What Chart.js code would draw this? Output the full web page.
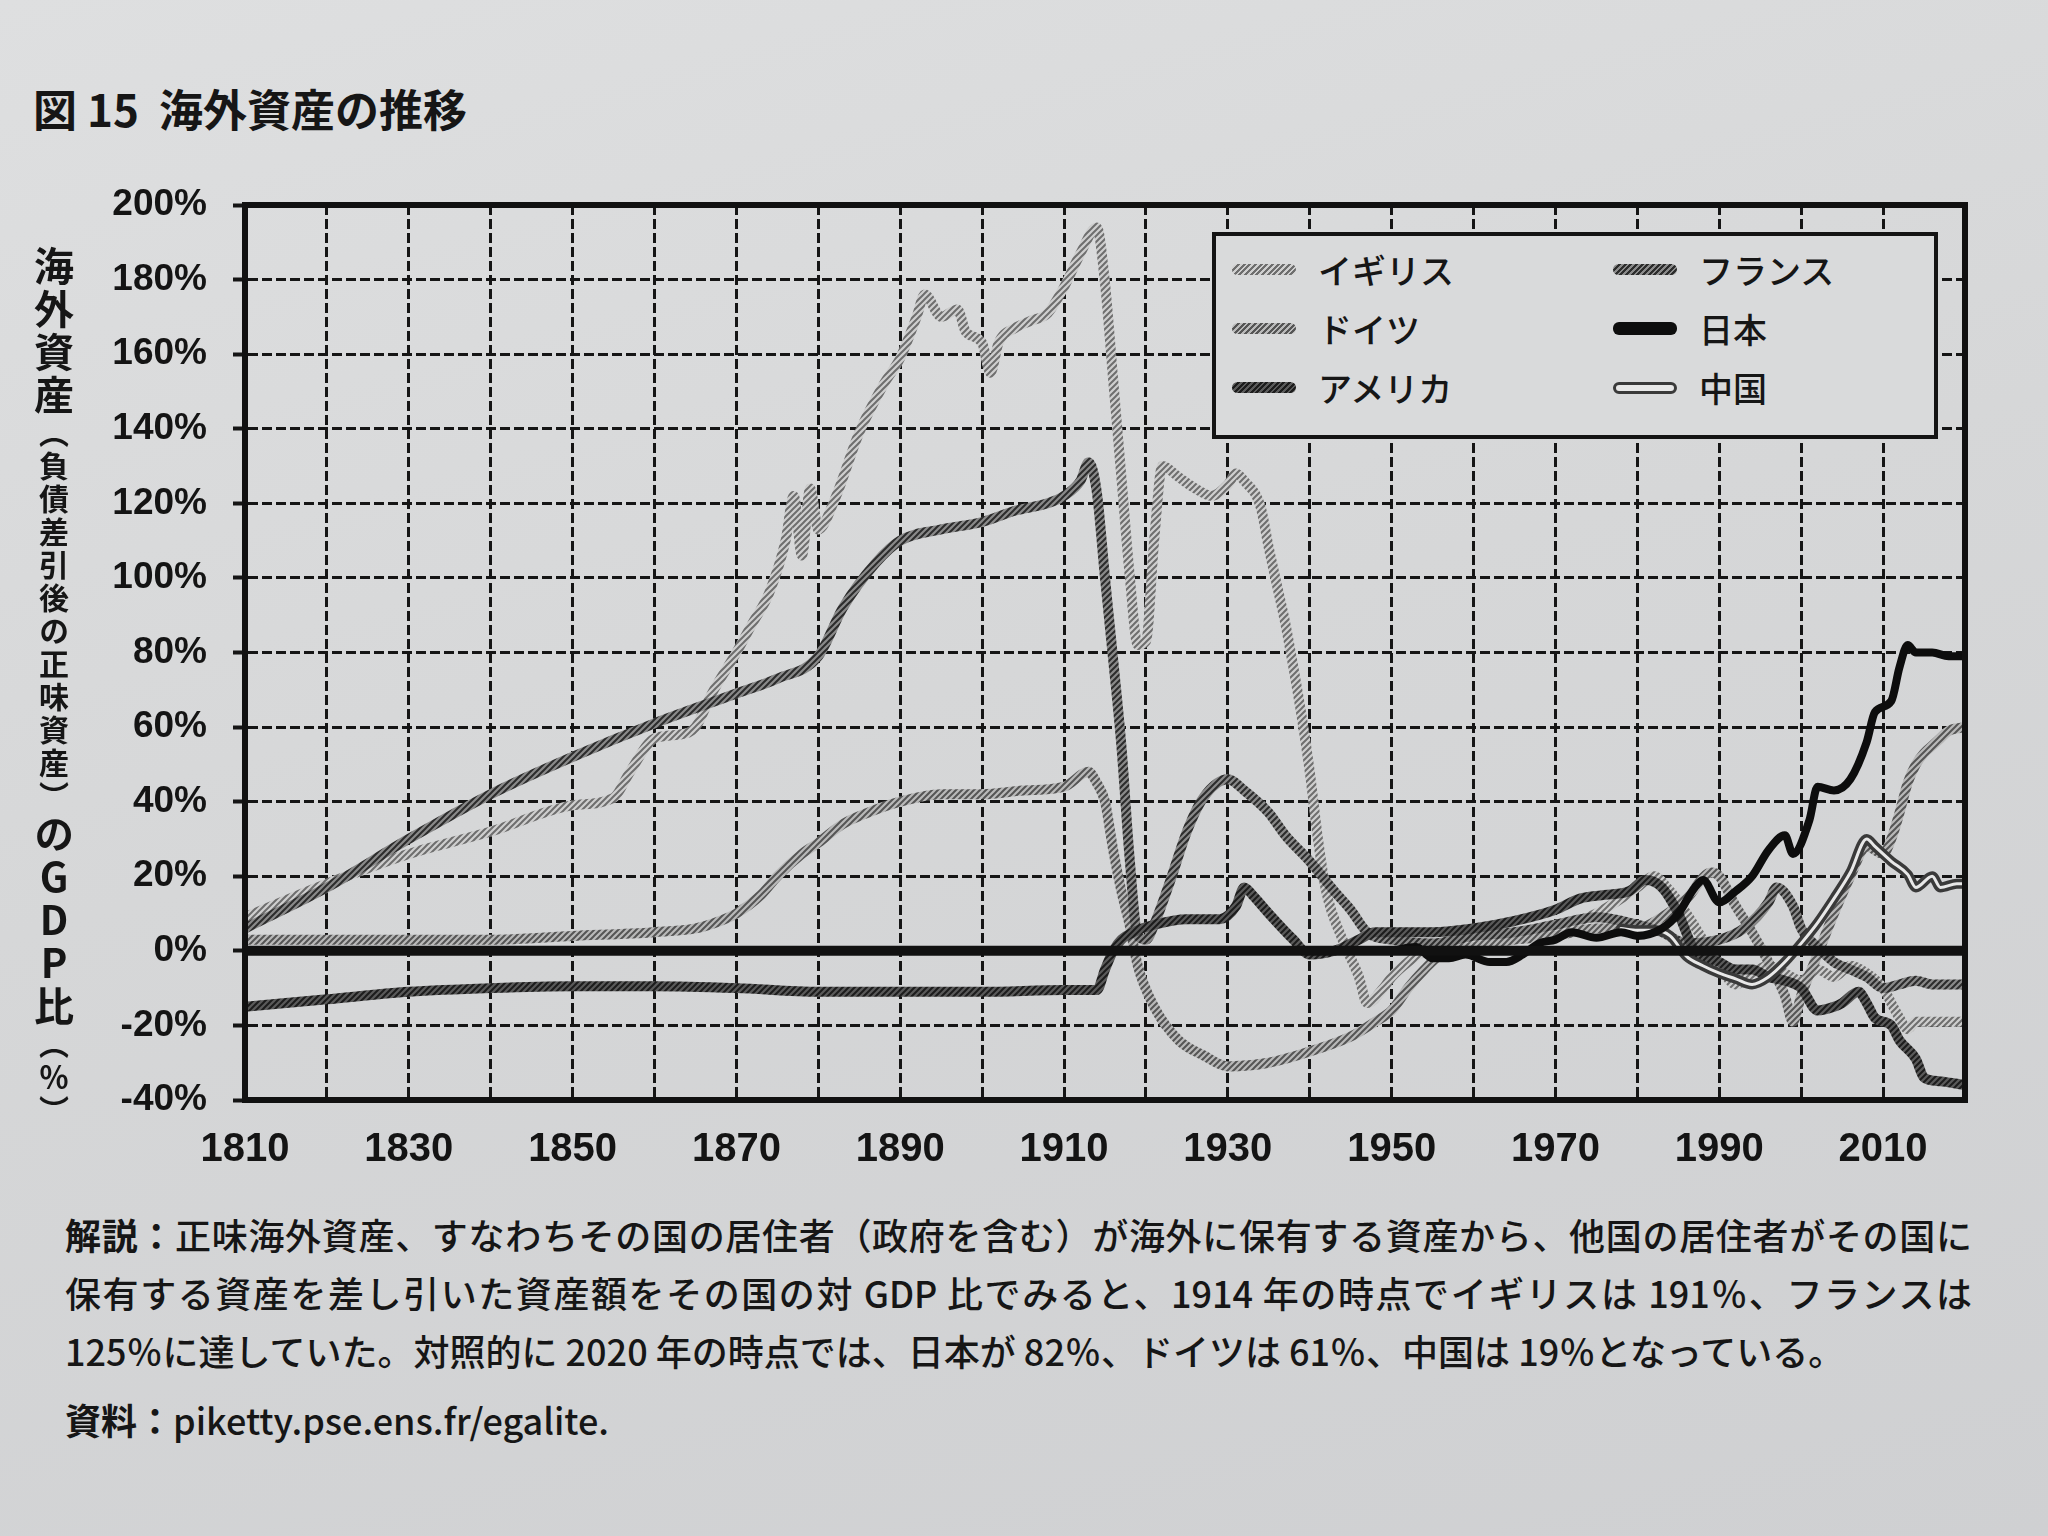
<!DOCTYPE html>
<html lang="ja">
<head>
<meta charset="utf-8">
<title>図15 海外資産の推移</title>
<script src="https://cdn.jsdelivr.net/npm/chart.js@4.4.1/dist/chart.umd.min.js"></script>
<style>
  html, body { margin: 0; padding: 0; }
  body {
    width: 2048px; height: 1536px; position: relative; overflow: hidden;
    background: linear-gradient(165deg, #dedfe0 0%, #d6d7d8 45%, #cfd0d2 100%);
    font-family: "Noto Sans CJK JP", "Noto Sans", sans-serif; color: #161616;
  }
  #title { position: absolute; left: 33px; top: 76px; font-size: 44px; font-weight: 700; letter-spacing: 0; }
  #wrap { position: absolute; left: 0; top: 0; width: 2048px; height: 1200px; }
  #ytitle {
    position: absolute; left: 34px; top: 246px; writing-mode: vertical-rl; text-orientation: mixed;
    font-weight: 700; letter-spacing: 3px; line-height: 1;
  }
  #ytitle .big { font-size: 40px; }
  #ytitle .sm { font-size: 30px; }
  #ytitle .up { text-orientation: upright; }
  #legend {
    position: absolute; left: 1212px; top: 232px; width: 702px; height: 195px;
    border: 4px solid #141414; background: #d9dadb;
    display: grid; grid-template-columns: 381px 1fr; grid-auto-rows: 59px;
    padding: 4px 0 0 16px; box-sizing: content-box; font-size: 34px; font-weight: 500;
  }
  #legend .it { display: flex; align-items: center; }
  #legend .sw { display: inline-block; width: 64px; height: 11px; border-radius: 6px; margin-right: 22px; }
  .s-uk { background: repeating-linear-gradient(135deg, #6e6e6e 0 2px, #cfcfcf 2px 4px); }
  .s-de { background: repeating-linear-gradient(135deg, #555 0 2px, #b9b9b9 2px 4px); }
  .s-us { background: repeating-linear-gradient(135deg, #1c1c1c 0 2px, #5a5a5a 2px 4px); }
  .s-fr { background: repeating-linear-gradient(135deg, #2c2c2c 0 2px, #8a8a8a 2px 4px); }
  .s-jp { background: #0d0d0d; height: 13px !important; }
  .s-cn { background: #e8e8e8; border: 3px solid #3a3a3a; height: 6px !important; width: 58px !important; }
  #note { position: absolute; left: 65px; top: 1205px; width: 1907px; font-size: 36px; line-height: 58px; font-weight: 500; }
  #note .j { text-align: justify; text-align-last: justify; }
  #note .src { margin-top: 11px; }
  #note b { font-weight: 700; }
</style>
</head>
<body>
<div id="title">図 15&nbsp; 海外資産の推移</div>
<div id="wrap"><canvas id="chart"></canvas></div>
<div id="ytitle"><span class="big">海外資産</span><span class="sm">（負債差引後の正味資産）</span><span class="big">の<span class="up">GDP</span>比</span><span class="sm">（％）</span></div>
<div id="legend">
  <div class="it"><span class="sw s-uk"></span>イギリス</div>
  <div class="it"><span class="sw s-fr"></span>フランス</div>
  <div class="it"><span class="sw s-de"></span>ドイツ</div>
  <div class="it"><span class="sw s-jp"></span>日本</div>
  <div class="it"><span class="sw s-us"></span>アメリカ</div>
  <div class="it"><span class="sw s-cn"></span>中国</div>
</div>
<div id="note">
  <div class="j"><b>解説：</b>正味海外資産、すなわちその国の居住者（政府を含む）が海外に保有する資産から、他国の居住者がその国に</div>
  <div class="j">保有する資産を差し引いた資産額をその国の対 GDP 比でみると、1914 年の時点でイギリスは 191％、フランスは</div>
  <div>125％に達していた。対照的に 2020 年の時点では、日本が 82％、ドイツは 61％、中国は 19％となっている。</div>
  <div class="src"><b>資料：</b>piketty.pse.ens.fr/egalite.</div>
</div>
<script>
// 海外資産の対GDP比（%）、図から読み取った値
let ukYears = [1810, 1820, 1830, 1840, 1850, 1855, 1857, 1860, 1863, 1865, 1867, 1870, 1872, 1874, 1876, 1877, 1878, 1879, 1880, 1882, 1885, 1888, 1890, 1892, 1893, 1895, 1897, 1898, 1900, 1901, 1902, 1904, 1906, 1908, 1910, 1912, 1914, 1915, 1916, 1917, 1918, 1919, 1920, 1921, 1922, 1924, 1926, 1928, 1930, 1931, 1932, 1934, 1935, 1936, 1937, 1938, 1939, 1940, 1941, 1942, 1944, 1946, 1947, 1949, 1950, 1952, 1954, 1956, 1960, 1965, 1970, 1975, 1978, 1980, 1982, 1984, 1986, 1988, 1990, 1992, 1994, 1996, 1998, 2000, 2002, 2004, 2006, 2008, 2010, 2011, 2012, 2013, 2014, 2016, 2018, 2020];
let ukValues = [9, 18, 26, 32, 39, 41, 48, 57, 58, 60, 69, 80, 88, 96, 110, 122, 106, 124, 113, 121, 139, 152, 159, 170, 176, 170, 172, 166, 163, 155, 163, 167, 169, 171, 178, 187, 194, 179, 153, 127, 101, 82, 83, 110, 130, 127, 124, 122, 125, 128, 126, 119, 108, 98, 88, 76, 63, 48, 30, 16, 3, -7, -14, -10, -7, -3, 0, 2, 3, 4, 6, 10, 14, 17, 20, 16, 10, 3, -4, -9, -6, -4, -6, -8, -5, -7, -4, -6, -10, -14, -18, -21, -19, -19, -19, -19];

let frYears = [1810, 1820, 1830, 1840, 1850, 1860, 1870, 1875, 1880, 1883, 1887, 1890, 1895, 1900, 1904, 1908, 1910, 1912, 1913, 1914, 1915, 1916, 1917, 1918, 1919, 1920, 1921, 1923, 1925, 1927, 1930, 1932, 1935, 1937, 1940, 1943, 1945, 1947, 1950, 1955, 1960, 1965, 1970, 1975, 1980, 1983, 1986, 1990, 1993, 1996, 1997, 1999, 2000, 2002, 2004, 2006, 2008, 2010, 2012, 2014, 2016, 2018, 2020];
let frValues = [6, 17, 30, 42, 52, 61, 69, 73, 79, 92, 104, 110, 113, 115, 118, 120, 122, 126, 131, 123, 100, 78, 55, 25, 4, 3, 7, 19, 32, 41, 46, 43, 37, 31, 24, 16, 11, 5, 3, 2, 4, 5, 7, 9, 7, 5, 2, 3, 6, 13, 17, 12, 6, 1, -3, -5, -7, -10, -9, -8, -9, -9, -9];

let deYears = [1810, 1820, 1830, 1840, 1850, 1860, 1865, 1868, 1870, 1873, 1875, 1878, 1880, 1883, 1886, 1890, 1895, 1900, 1905, 1910, 1913, 1914, 1915, 1916, 1917, 1918, 1919, 1921, 1924, 1927, 1930, 1935, 1940, 1945, 1948, 1950, 1952, 1954, 1956, 1960, 1965, 1970, 1975, 1980, 1983, 1986, 1989, 1990, 1992, 1994, 1996, 1998, 1999, 2000, 2002, 2004, 2006, 2008, 2010, 2011, 2012, 2013, 2014, 2015, 2016, 2017, 2018, 2020];
let deValues = [3, 3, 3, 3, 4, 5, 6, 8, 10, 15, 20, 26, 29, 34, 37, 40, 42, 42, 43, 44, 48, 45, 40, 27, 16, 7, -4, -15, -24, -28, -31, -30, -27, -23, -19, -16, -10, -5, -1, 1, 3, 4, 6, 6, 9, 14, 21, 20, 12, 5, -3, -12, -19, -12, -1, 10, 20, 28, 26, 30, 37, 45, 50, 53, 55, 57, 59, 60];

let usYears = [1810, 1820, 1830, 1840, 1850, 1860, 1870, 1880, 1890, 1900, 1910, 1914, 1915, 1916, 1917, 1919, 1921, 1925, 1929, 1931, 1932, 1933, 1935, 1938, 1940, 1943, 1946, 1948, 1950, 1955, 1960, 1965, 1970, 1973, 1976, 1979, 1981, 1983, 1985, 1987, 1990, 1992, 1994, 1996, 1998, 2000, 2002, 2004, 2005, 2007, 2008, 2009, 2011, 2012, 2014, 2015, 2017, 2020];
let usValues = [-15, -13, -11, -10, -9.5, -9.5, -10, -11, -11, -11, -10.5, -10.5, -5, 0, 3, 5.5, 7, 8.5, 8.5, 12, 17, 15, 10, 3, -1, 0, 3, 5, 5, 5, 6, 8, 11, 14, 15, 16, 19, 17, 10, 0, -3, -5, -5, -7, -8, -10, -16, -15, -14, -11, -14, -18, -20, -24, -29, -34, -35, -36];

let jpYears = [1950, 1953, 1955, 1957, 1959, 1962, 1964, 1966, 1968, 1970, 1972, 1975, 1978, 1980, 1983, 1985, 1987, 1988, 1990, 1992, 1994, 1996, 1998, 1999, 2001, 2002, 2004, 2006, 2008, 2009, 2011, 2012, 2013, 2014, 2016, 2018, 2020];
let jpValues = [0, 1, -2, -2, -1, -3, -3, -1, 2, 3, 5, 3.5, 5, 4, 6, 10, 17, 19, 13, 16, 20, 27, 31, 26, 35, 44, 43, 46, 56, 64, 67, 76, 82, 80, 80, 79, 79];

let cnYears = [1978, 1980, 1982, 1984, 1986, 1988, 1990, 1992, 1994, 1996, 1998, 2000, 2002, 2004, 2006, 2008, 2009, 2011, 2013, 2014, 2016, 2017, 2019, 2020];
let cnValues = [6, 5.5, 5.5, 4, -1.5, -4, -6, -7.5, -9, -7, -3, 2, 7.5, 14, 21, 30, 28, 24, 20.5, 17, 20, 17, 18, 18];

let yearLabels = [1810, 1830, 1850, 1870, 1890, 1910, 1930, 1950, 1970, 1990, 2010];

function pts(years, values) {
  return years.map((y, i) => ({ x: y, y: values[i] }));
}

let canvas = document.getElementById('chart');
let ctx = canvas.getContext('2d');

function hatch(light, dark) {
  let c = document.createElement('canvas');
  c.width = 6; c.height = 6;
  let g = c.getContext('2d');
  g.fillStyle = light;
  g.fillRect(0, 0, 6, 6);
  g.strokeStyle = dark;
  g.lineWidth = 2;
  g.beginPath();
  g.moveTo(-1, 7); g.lineTo(7, -1);
  g.moveTo(-1, 1); g.lineTo(1, -1);
  g.moveTo(5, 7); g.lineTo(7, 5);
  g.stroke();
  return ctx.createPattern(c, 'repeat');
}

// 0% の太線と外枠
let frame = {
  id: 'frame',
  afterDatasetsDraw(chart) {
    let c = chart.ctx, a = chart.chartArea;
    let y0 = chart.scales.y.getPixelForValue(0);
    c.save();
    c.strokeStyle = '#111';
    c.lineWidth = 10;
    c.beginPath();
    c.moveTo(a.left, y0);
    c.lineTo(a.right, y0);
    c.stroke();
    c.lineWidth = 6;
    c.strokeRect(a.left, a.top, a.right - a.left, a.bottom - a.top);
    c.restore();
  }
};

let tickFont = { family: 'Liberation Sans', weight: 'bold' };

new Chart(ctx, {
  type: 'line',
  data: {
    datasets: [
      { label: '日本', data: pts(jpYears, jpValues), borderColor: '#0d0d0d', borderWidth: 8 },
      { label: '中国 ', data: pts(cnYears, cnValues), borderColor: '#e8e8e8', borderWidth: 3 },
      { label: '中国', data: pts(cnYears, cnValues), borderColor: '#3a3a3a', borderWidth: 10 },
      { label: 'アメリカ', data: pts(usYears, usValues), borderColor: hatch('#5a5a5a', '#1c1c1c'), borderWidth: 10 },
      { label: 'フランス', data: pts(frYears, frValues), borderColor: hatch('#8a8a8a', '#2c2c2c'), borderWidth: 10 },
      { label: 'ドイツ', data: pts(deYears, deValues), borderColor: hatch('#b9b9b9', '#555555'), borderWidth: 10 },
      { label: 'イギリス', data: pts(ukYears, ukValues), borderColor: hatch('#cfcfcf', '#6e6e6e'), borderWidth: 10 }
    ]
  },
  options: {
    responsive: true,
    maintainAspectRatio: false,
    animation: false,
    layout: { padding: { top: 205, right: 83, bottom: 0, left: 0 } },
    plugins: { legend: { display: false }, tooltip: { enabled: false } },
    elements: {
      point: { radius: 0 },
      line: { cubicInterpolationMode: 'monotone', borderCapStyle: 'round', borderJoinStyle: 'round', fill: false }
    },
    scales: {
      x: {
        type: 'linear', min: 1810, max: 2020,
        afterFit: s => { s.height = 100; },
        ticks: {
          stepSize: 10, autoSkip: false, maxRotation: 0, includeBounds: false, padding: 26,
          color: '#141414', font: Object.assign({ size: 40 }, tickFont),
          callback: v => yearLabels.includes(v) ? String(v) : ''
        },
        grid: { color: '#151515', lineWidth: 3, drawTicks: false },
        border: { display: true, color: '#111', width: 6, dash: [10, 4] }
      },
      y: {
        min: -40, max: 200,
        afterFit: s => { s.width = 245; },
        ticks: {
          stepSize: 20, padding: 26, color: '#141414', font: Object.assign({ size: 37 }, tickFont),
          callback: v => v + '%'
        },
        grid: { color: '#151515', lineWidth: 3, tickLength: 12, tickWidth: 4 },
        border: { display: true, color: '#111', width: 6, dash: [10, 4] }
      }
    }
  },
  plugins: [frame]
});
</script>
</body>
</html>
